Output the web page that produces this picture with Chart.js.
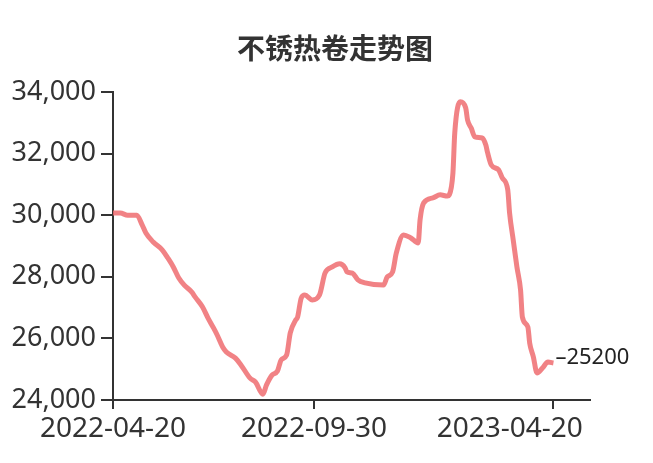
<!DOCTYPE html>
<html lang="zh">

<head>
    <meta charset="UTF-8">
    <title>不锈热卷走势图</title>
    <script src="https://cdn.jsdelivr.net/npm/chart.js"></script>
    <style>
        body {
            margin: 0;
            padding: 0;
            background-color: white;
        }

        #chart-container {
            width: 653px;
            height: 463px;
        }
    </style>
</head>

<body>
    <div id="chart-container">
        <canvas id="chart" width="653" height="463"></canvas>
    </div>

    <script>
        // trading-day index of each sampled point, and price at that point
        const dayIdx = [0, 4, 8, 13, 16, 18, 22, 27, 30, 33, 36, 39, 43, 45, 49, 52, 55, 57, 60, 62,
            67, 70, 75, 78, 82, 84, 87, 90, 92, 95, 97, 100, 101, 103, 105, 109, 113, 116, 120, 124,
            127, 128, 131, 134, 138, 148, 150, 153, 155, 159, 163, 167, 168, 170, 175, 179, 183, 184, 186, 187,
            190, 193, 194, 196, 198, 202, 204, 205, 207, 211, 213, 216, 217, 219, 221, 223, 224, 227, 228, 230,
            232, 235, 238, 241];
        const prices = [30070, 30070, 30000, 30000, 29680, 29420, 29130, 28870, 28610, 28320, 27960, 27730, 27510, 27340, 27020, 26660, 26340, 26110, 25720, 25560,
            25360, 25140, 24710, 24580, 24190, 24490, 24810, 24940, 25300, 25460, 26180, 26600, 26690, 27310, 27410, 27250, 27410, 28120, 28320, 28420,
            28290, 28160, 28120, 27900, 27800, 27730, 27990, 28160, 28770, 29360, 29260, 29100, 29840, 30400, 30560, 30660, 30620, 30660, 31370, 32670,
            33680, 33480, 33090, 32830, 32540, 32510, 32280, 32020, 31630, 31470, 31210, 30820, 30070, 29190, 28320, 27570, 26690, 26370, 25850, 25400,
            24880, 25040, 25230, 25200];

        // x axis labels and the trading-day index where each one sits
        const tickIdx = [0, 110, 241];
        const tickLabels = ["2022-04-20", "2022-09-30", "2023-04-20"];
        const lastDay = 261;

        const axisColor = "#333";

        const titlePlugin = {
            id: "cnTitle",
            afterDraw(chart) {
                const c = chart.ctx;
                c.save();
                c.font = "bold 28px 'Noto Sans CJK SC', sans-serif";
                c.fillStyle = "#333";
                c.textAlign = "center";
                c.textBaseline = "middle";
                c.fillText("不锈热卷走势图", 335, 48);
                c.restore();
            }
        };

        const endLabelPlugin = {
            id: "endLabel",
            afterDatasetsDraw(chart) {
                const meta = chart.getDatasetMeta(0);
                const last = meta.data[meta.data.length - 1];
                const c = chart.ctx;
                c.save();
                c.font = "22px 'Noto Sans', sans-serif";
                c.fillStyle = "#222";
                c.textAlign = "left";
                c.textBaseline = "middle";
                c.fillText("–" + prices[prices.length - 1], last.x + 2, last.y - 5);
                c.restore();
            }
        };

        const ctx = document.getElementById("chart").getContext("2d");
        new Chart(ctx, {
            type: "line",
            data: {
                datasets: [
                    {
                        data: dayIdx.map((d, i) => ({ x: d, y: prices[i] })),
                        borderColor: "rgba(238, 108, 112, 0.85)",
                        borderWidth: 5,
                        pointRadius: 0,
                        cubicInterpolationMode: "monotone",
                        fill: false,
                    },
                ],
            },
            options: {
                responsive: false,
                animation: false,
                devicePixelRatio: 1,
                layout: {
                    padding: { top: 92, right: 63, bottom: 0, left: 0 },
                },
                plugins: {
                    legend: { display: false },
                    tooltip: { enabled: false },
                },
                scales: {
                    x: {
                        type: "linear",
                        min: 0,
                        max: lastDay,
                        afterBuildTicks: (scale) => {
                            scale.ticks = tickIdx.map(v => ({ value: v }));
                        },
                        afterFit: (scale) => {
                            scale.height = 63;
                            scale.paddingLeft = 0;
                            scale.paddingRight = 0;
                        },
                        grid: {
                            drawOnChartArea: false,
                            drawTicks: true,
                            tickLength: 9,
                            color: axisColor,
                            lineWidth: 2,
                        },
                        border: { display: true, color: axisColor, width: 2 },
                        ticks: {
                            autoSkip: false,
                            maxRotation: 0,
                            color: axisColor,
                            font: { family: "'Noto Sans', sans-serif", size: 28 },
                            padding: 3,
                            callback: (v) => {
                                const i = tickIdx.indexOf(v);
                                // the last label sits left of its tick so it stays inside the axis
                                return i === tickIdx.length - 1 ? tickLabels[i] + "            " : tickLabels[i];
                            },
                        },
                    },
                    y: {
                        min: 24000,
                        max: 34000,
                        afterFit: (scale) => {
                            scale.width = 113;
                        },
                        grid: {
                            drawOnChartArea: false,
                            drawTicks: true,
                            tickLength: 12,
                            color: axisColor,
                            lineWidth: 2,
                        },
                        border: { display: true, color: axisColor, width: 2 },
                        ticks: {
                            stepSize: 2000,
                            color: axisColor,
                            font: { family: "'Noto Sans', sans-serif", size: 27 },
                            padding: 5,
                            callback: (v) => v.toLocaleString("en-US"),
                        },
                    },
                },
            },
            plugins: [titlePlugin, endLabelPlugin],
        });
    </script>
</body>

</html>
